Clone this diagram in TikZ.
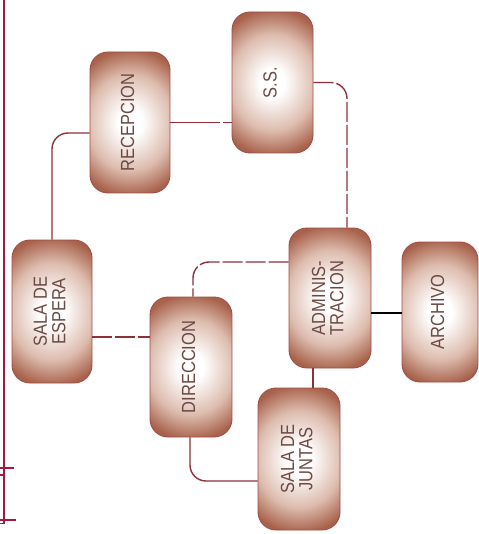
\documentclass[tikz,border=0pt]{standalone}
\usepackage{graphicx}
\usepackage{fontspec}
\setmainfont{Liberation Sans}
\usetikzlibrary{calc}
\definecolor{boxout}{HTML}{A8624B}
\definecolor{boxmid}{HTML}{DDBCAE}
\definecolor{boxline}{HTML}{A04E48}
\definecolor{boxtext}{HTML}{6C4A44}
\definecolor{conn}{HTML}{8E2F3A}
\definecolor{framec}{HTML}{A3193F}
\pgfdeclareradialshading{roomshade}{\pgfpoint{0bp}{0bp}}{color(0bp)=(white); color(5bp)=(white); color(17bp)=(boxmid); color(26bp)=(boxout); color(50bp)=(boxout)}
\tikzset{
  room/.style={rounded corners=18pt, draw=boxline, line width=0.9pt,
    path picture={\shade[shading=roomshade]
      ($(path picture bounding box.south west)+(-22pt,0pt)$) rectangle
      ($(path picture bounding box.north east)+(22pt,0pt)$);},
    inner sep=0pt,
    text=boxtext, font=\fontsize{16.5}{14.5}\selectfont, align=center},
  link/.style={draw=conn, line width=1.4pt, rounded corners=16pt},
  dlink/.style={link, dash pattern=on 20pt off 3pt},
  blink/.style={draw=black, line width=2pt},
  framel/.style={draw=framec, line width=1.6pt}
}
\newcommand{\rtext}[1]{\rotatebox{90}{\scalebox{1}[1.15]{\begin{tabular}{@{}c@{}}#1\end{tabular}}}}
\begin{document}
\begin{tikzpicture}[x=1pt,y=-1pt]
\useasboundingbox (0,0) rectangle (478,534);
% frame
\draw[framel] (4,0) coordinate (f0) -- (4,524) coordinate (f1);
\draw[framel] (0,468) coordinate (t1a) -- (14,468) coordinate (t1b);
\draw[framel] (0,475) coordinate (t2a) -- (5,475) coordinate (t2b);
\draw[framel] (0,520) coordinate (t3a) -- (16,520) coordinate (t3b);
\draw[framel] (0,523.5) coordinate (t4a) -- (5,523.5) coordinate (t4b);
% rooms
\node[room, minimum width=80pt, minimum height=141pt] (rec) at (130,122.5) {\rtext{RECEPCION}};
\node[room, minimum width=81pt, minimum height=141pt] (ss) at (272.5,82.5) {\rtext{S.S.}};
\node[room, minimum width=80pt, minimum height=143pt] (esp) at (52,311.5) {\rtext{SALA DE\\ESPERA}};
\node[room, minimum width=82pt, minimum height=140pt] (dir) at (191,367) {\rtext{DIRECCION}};
\node[room, minimum width=82pt, minimum height=140pt] (adm) at (330,298) {\rtext{ADMINIS-\\TRACION}};
\node[room, minimum width=76pt, minimum height=140pt] (arc) at (440,312) {\rtext{ARCHIVO}};
\node[room, minimum width=82pt, minimum height=142pt] (jun) at (299,459) {\rtext{SALA DE\\JUNTAS}};
% connectors
\draw[link] (esp.north) |- ($(rec.west)+(0,10.5)$);
\draw[link, dash pattern=on 50pt off 3pt] (rec.east) -- (rec.east -| ss.west);
\draw[dlink] (ss.east) -| ($(adm.north)+(17,0)$);
\draw[dlink] ($(adm.west)+(0,-36)$) -| ($(dir.north)+(2,0)$);
\draw[dlink] ($(esp.east)+(0,25.5)$) coordinate (e1) -- (dir.west |- e1);
\draw[blink] ($(adm.east)+(0,15)$) coordinate (a1) -- (arc.west |- a1);
\draw[link] ($(adm.south)+(-17,0)$) coordinate (a2) -- (jun.north -| a2);
\draw[link] ($(dir.south)+(-1,0)$) |- ($(jun.west)+(0,22)$);
\end{tikzpicture}
\end{document}
